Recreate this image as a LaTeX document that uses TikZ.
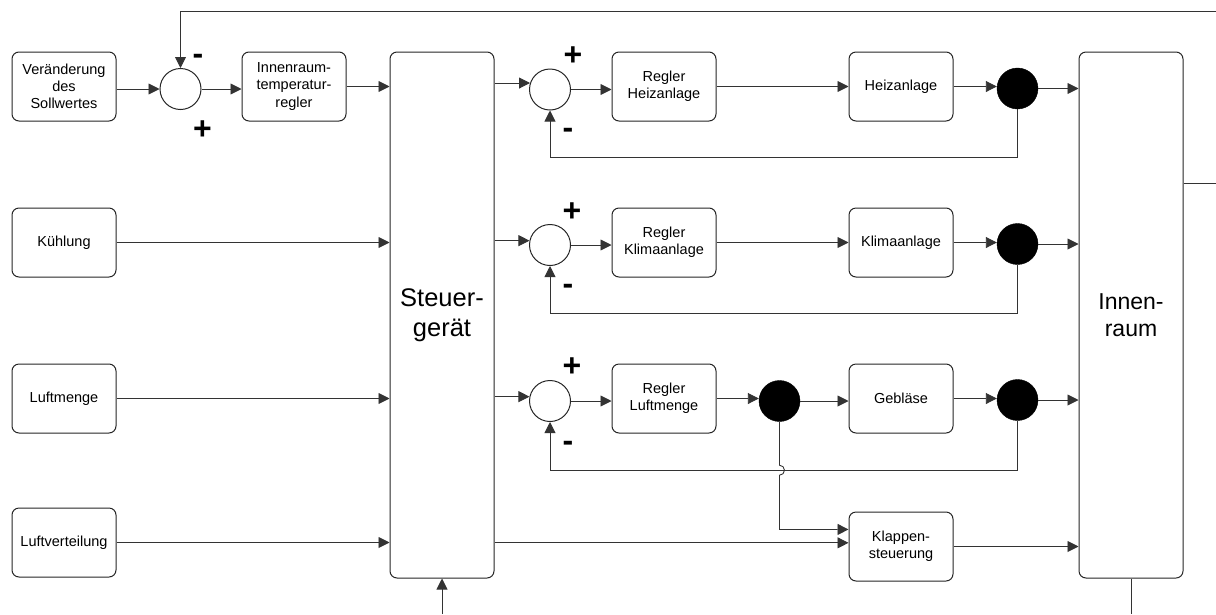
\documentclass[tikz,border=0pt]{standalone}
\usepackage{fontspec}
\setmainfont{Liberation Sans}
\usetikzlibrary{arrows.meta,calc}

\tikzset{
  blk/.style={draw=black!85, line width=1pt, rounded corners=7pt, fill=white,
    minimum width=104pt, minimum height=69pt, align=center, inner sep=0pt,
    font=\fontsize{14.5}{17.3}\selectfont},
  tall/.style={blk, minimum height=526pt},
  sumpt/.style={circle, draw=black!85, line width=1pt, minimum size=41pt, inner sep=0pt},
  branch/.style={circle, draw=black, fill=black, minimum size=41pt, inner sep=0pt},
  wire/.style={draw=black!80, line width=0.9pt},
  flow/.style={wire, -{Triangle[length=11pt,width=11pt]}},
  sign/.style={font=\fontsize{32}{32}\selectfont\bfseries, inner sep=0pt},
}

\begin{document}
\begin{tikzpicture}[x=1pt,y=-1pt]
\useasboundingbox (0,0) rectangle (1216,614);

% input blocks
\node[blk] (soll)  at (64,86.5)  {Veränderung\\des\\Sollwertes};
\node[blk] (kuehl) at (64,242.5) {Kühlung};
\node[blk] (luftm) at (64,398.5) {Luftmenge};
\node[blk] (luftv) at (64,542.5) {Luftverteilung};

% setpoint comparison and room temperature controller
\node[sumpt] (sum0) at (180.5,89) {};
\node[blk] (itr) at (294,86.5) {Innenraum-\\temperatur-\\regler};

% control unit and cabin
\node[tall, font=\fontsize{25.5}{29.5}\selectfont] (steuer) at (442,315) {Steuer-\\gerät};
\node[tall, font=\fontsize{23}{27}\selectfont] (innen)  at (1131,315) {Innen-\\raum};

% inner loops
\node[sumpt] (sum1) at (550,89.5) {};
\node[sumpt] (sum2) at (550,245) {};
\node[sumpt] (sum3) at (550,401) {};
\node[blk] (rh) at (664,86.5)  {Regler\\Heizanlage};
\node[blk] (rk) at (664,242.5) {Regler\\Klimaanlage};
\node[blk] (rl) at (664,398.5) {Regler\\Luftmenge};
\node[branch] (bm) at (779.5,401) {};
\node[blk] (heiz)   at (901,86.5)  {Heizanlage};
\node[blk] (klima)  at (901,242.5) {Klimaanlage};
\node[blk] (gebl)   at (901,398.5) {Gebläse};
\node[blk] (klappe) at (901,546.5) {Klappen-\\steuerung};
\node[branch] (b1) at (1017.5,88.5) {};
\node[branch] (b2) at (1017.5,244) {};
\node[branch] (b3) at (1017.5,400) {};

% signs at the summing points
\node[sign] (p0) at (202.5,130) {+};
\node[sign] (m0) at (198,59) {-};
\node[sign] (p1) at (573,56) {+};
\node[sign] (m1) at (568,133) {-};
\node[sign] (p2) at (572,212) {+};
\node[sign] (m2) at (568,289) {-};
\node[sign] (p3) at (572,367) {+};
\node[sign] (m3) at (568,446) {-};

% free ends at the picture border
\coordinate (topR) at (1216,11);
\coordinate (outR) at (1216,183);
\coordinate (outB) at (1131,614);
\coordinate (inB)  at (442,614);

% outer loop
\draw[flow] (soll.east |- sum0.west) -- (sum0.west);
\draw[flow] (sum0.east) -- (sum0.east -| itr.west);
\draw[flow] (itr.east) -- (itr.east -| steuer.west);
\draw[flow] (topR) -| (sum0.north);
\draw[wire] (innen.east |- outR) -- (outR);
\draw[wire] (innen.south) -- (outB);
\draw[flow] (inB) -- (steuer.south);

% further inputs of the control unit
\draw[flow] (kuehl.east) -- (kuehl.east -| steuer.west);
\draw[flow] (luftm.east) -- (luftm.east -| steuer.west);
\draw[flow] (luftv.east) -- (luftv.east -| steuer.west);

% heating loop
\draw[flow] (steuer.east |- sum1.162) -- (sum1.162);
\draw[flow] (sum1.east) -- (sum1.east -| rh.west);
\draw[flow] (rh.east) -- (rh.east -| heiz.west);
\draw[flow] (heiz.east) -- (heiz.east -| b1.west);
\draw[flow] (b1.east) -- (b1.east -| innen.west);
\draw[flow] (b1.south) -- ++(0,48) -| (sum1.south);

% air conditioning loop
\draw[flow] (steuer.east |- sum2.168) -- (sum2.168);
\draw[flow] (sum2.east) -- (sum2.east -| rk.west);
\draw[flow] (rk.east) -- (rk.east -| klima.west);
\draw[flow] (klima.east) -- (klima.east -| b2.west);
\draw[flow] (b2.east) -- (b2.east -| innen.west);
\draw[flow] (b2.south) -- ++(0,49) -| (sum2.south);

% air volume loop
\coordinate (fb3) at ($(b3.south)+(0,49.5)$);
\draw[flow] (steuer.east |- sum3.168) -- (sum3.168);
\draw[flow] (sum3.east) -- (sum3.east -| rl.west);
\draw[flow] (rl.east) -- (rl.east -| bm.west);
\draw[flow] (bm.east) -- (bm.east -| gebl.west);
\draw[flow] (gebl.east) -- (gebl.east -| b3.west);
\draw[flow] (b3.east) -- (b3.east -| innen.west);
\draw[flow] (b3.south) -- (fb3) -| (sum3.south);

% flap control, crossing the air volume feedback with a hop
\draw[flow] (bm.south) -- ($(bm.south |- fb3)+(0,-5)$)
  arc[start angle=-90, end angle=90, radius=5]
  -- (bm.south |- klappe.162) -- (klappe.162);
\draw[flow] (steuer.east |- klappe.176) -- (klappe.176);
\draw[flow] (klappe.east) -- (klappe.east -| innen.west);
\end{tikzpicture}
\end{document}
